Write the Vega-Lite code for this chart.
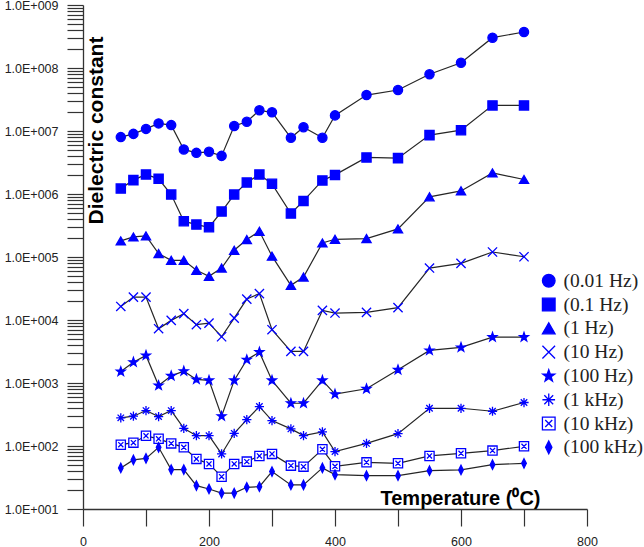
{
  "$schema": "https://vega.github.io/schema/vega-lite/v6.json",
  "width": 504,
  "height": 504,
  "autosize": {"type": "none"},
  "padding": {"left": 83, "top": 5, "right": 57, "bottom": 38},
  "background": "white",
  "config": {
    "view": {"stroke": null},
    "axis": {
      "grid": false,
      "domainColor": "#333333",
      "domainWidth": 1.3,
      "tickColor": "#333333",
      "tickWidth": 1.2,
      "labelFont": "Liberation Sans",
      "labelFontSize": 12.5,
      "labelColor": "#222222",
      "titleFont": "Liberation Sans",
      "titleFontWeight": "bold",
      "titleColor": "#000000"
    },
    "legend": {
      "orient": "none",
      "legendX": 456,
      "legendY": 266,
      "padding": 0,
      "symbolSize": 160,
      "symbolStrokeWidth": 1.3,
      "labelFont": "Liberation Serif",
      "labelFontSize": 19.5,
      "labelColor": "#222222",
      "labelOffset": 5,
      "rowPadding": 2.8,
      "titlePadding": 0
    }
  },
  "data": {
    "values": [
      {"t": 60, "f": "(0.01 Hz)", "e": 8.0e6}, {"t": 80, "f": "(0.01 Hz)", "e": 9.0e6}, {"t": 100, "f": "(0.01 Hz)", "e": 1.08e7}, {"t": 120, "f": "(0.01 Hz)", "e": 1.32e7}, {"t": 140, "f": "(0.01 Hz)", "e": 1.24e7}, {"t": 160, "f": "(0.01 Hz)", "e": 5.1e6}, {"t": 180, "f": "(0.01 Hz)", "e": 4.5e6}, {"t": 200, "f": "(0.01 Hz)", "e": 4.67e6}, {"t": 220, "f": "(0.01 Hz)", "e": 4.03e6}, {"t": 240, "f": "(0.01 Hz)", "e": 1.2e7}, {"t": 260, "f": "(0.01 Hz)", "e": 1.4e7}, {"t": 280, "f": "(0.01 Hz)", "e": 2.13e7}, {"t": 300, "f": "(0.01 Hz)", "e": 1.98e7}, {"t": 330, "f": "(0.01 Hz)", "e": 7.8e6}, {"t": 350, "f": "(0.01 Hz)", "e": 1.15e7}, {"t": 380, "f": "(0.01 Hz)", "e": 7.8e6}, {"t": 400, "f": "(0.01 Hz)", "e": 1.77e7}, {"t": 450, "f": "(0.01 Hz)", "e": 3.72e7}, {"t": 500, "f": "(0.01 Hz)", "e": 4.47e7}, {"t": 550, "f": "(0.01 Hz)", "e": 7.94e7}, {"t": 600, "f": "(0.01 Hz)", "e": 1.21e8}, {"t": 650, "f": "(0.01 Hz)", "e": 3.03e8}, {"t": 700, "f": "(0.01 Hz)", "e": 3.73e8},

      {"t": 60, "f": "(0.1 Hz)", "e": 1.22e6}, {"t": 80, "f": "(0.1 Hz)", "e": 1.66e6}, {"t": 100, "f": "(0.1 Hz)", "e": 2.04e6}, {"t": 120, "f": "(0.1 Hz)", "e": 1.74e6}, {"t": 140, "f": "(0.1 Hz)", "e": 9.8e5}, {"t": 160, "f": "(0.1 Hz)", "e": 3.7e5}, {"t": 180, "f": "(0.1 Hz)", "e": 3.27e5}, {"t": 200, "f": "(0.1 Hz)", "e": 2.97e5}, {"t": 220, "f": "(0.1 Hz)", "e": 5.27e5}, {"t": 240, "f": "(0.1 Hz)", "e": 9.8e5}, {"t": 260, "f": "(0.1 Hz)", "e": 1.52e6}, {"t": 280, "f": "(0.1 Hz)", "e": 2.04e6}, {"t": 300, "f": "(0.1 Hz)", "e": 1.45e6}, {"t": 330, "f": "(0.1 Hz)", "e": 4.9e5}, {"t": 350, "f": "(0.1 Hz)", "e": 7.77e5}, {"t": 380, "f": "(0.1 Hz)", "e": 1.64e6}, {"t": 400, "f": "(0.1 Hz)", "e": 2.01e6}, {"t": 450, "f": "(0.1 Hz)", "e": 3.8e6}, {"t": 500, "f": "(0.1 Hz)", "e": 3.71e6}, {"t": 550, "f": "(0.1 Hz)", "e": 8.6e6}, {"t": 600, "f": "(0.1 Hz)", "e": 1.03e7}, {"t": 650, "f": "(0.1 Hz)", "e": 2.55e7}, {"t": 700, "f": "(0.1 Hz)", "e": 2.55e7},

      {"t": 60, "f": "(1 Hz)", "e": 1.8e5}, {"t": 80, "f": "(1 Hz)", "e": 2.08e5}, {"t": 100, "f": "(1 Hz)", "e": 2.16e5}, {"t": 120, "f": "(1 Hz)", "e": 1.13e5}, {"t": 140, "f": "(1 Hz)", "e": 8.87e4}, {"t": 160, "f": "(1 Hz)", "e": 8.87e4}, {"t": 180, "f": "(1 Hz)", "e": 6.15e4}, {"t": 200, "f": "(1 Hz)", "e": 4.93e4}, {"t": 220, "f": "(1 Hz)", "e": 6.68e4}, {"t": 240, "f": "(1 Hz)", "e": 1.28e5}, {"t": 260, "f": "(1 Hz)", "e": 1.89e5}, {"t": 280, "f": "(1 Hz)", "e": 2.56e5}, {"t": 300, "f": "(1 Hz)", "e": 1.03e5}, {"t": 330, "f": "(1 Hz)", "e": 3.55e4}, {"t": 350, "f": "(1 Hz)", "e": 4.81e4}, {"t": 380, "f": "(1 Hz)", "e": 1.67e5}, {"t": 400, "f": "(1 Hz)", "e": 1.91e5}, {"t": 450, "f": "(1 Hz)", "e": 1.96e5}, {"t": 500, "f": "(1 Hz)", "e": 2.79e5}, {"t": 550, "f": "(1 Hz)", "e": 9.0e5}, {"t": 600, "f": "(1 Hz)", "e": 1.12e6}, {"t": 650, "f": "(1 Hz)", "e": 2.16e6}, {"t": 700, "f": "(1 Hz)", "e": 1.7e6},

      {"t": 60, "f": "(10 Hz)", "e": 1.64e4}, {"t": 80, "f": "(10 Hz)", "e": 2.31e4}, {"t": 100, "f": "(10 Hz)", "e": 2.31e4}, {"t": 120, "f": "(10 Hz)", "e": 7.27e3}, {"t": 140, "f": "(10 Hz)", "e": 9.86e3}, {"t": 160, "f": "(10 Hz)", "e": 1.26e4}, {"t": 180, "f": "(10 Hz)", "e": 8.42e3}, {"t": 200, "f": "(10 Hz)", "e": 8.93e3}, {"t": 220, "f": "(10 Hz)", "e": 5.42e3}, {"t": 240, "f": "(10 Hz)", "e": 1.07e4}, {"t": 260, "f": "(10 Hz)", "e": 2.15e4}, {"t": 280, "f": "(10 Hz)", "e": 2.62e4}, {"t": 300, "f": "(10 Hz)", "e": 7.01e3}, {"t": 330, "f": "(10 Hz)", "e": 3.17e3}, {"t": 350, "f": "(10 Hz)", "e": 3.17e3}, {"t": 380, "f": "(10 Hz)", "e": 1.42e4}, {"t": 400, "f": "(10 Hz)", "e": 1.29e4}, {"t": 450, "f": "(10 Hz)", "e": 1.32e4}, {"t": 500, "f": "(10 Hz)", "e": 1.57e4}, {"t": 550, "f": "(10 Hz)", "e": 6.68e4}, {"t": 600, "f": "(10 Hz)", "e": 7.94e4}, {"t": 650, "f": "(10 Hz)", "e": 1.2e5}, {"t": 700, "f": "(10 Hz)", "e": 1.01e5},

      {"t": 60, "f": "(100 Hz)", "e": 1520}, {"t": 80, "f": "(100 Hz)", "e": 2140}, {"t": 100, "f": "(100 Hz)", "e": 2740}, {"t": 120, "f": "(100 Hz)", "e": 912}, {"t": 140, "f": "(100 Hz)", "e": 1300}, {"t": 160, "f": "(100 Hz)", "e": 1540}, {"t": 180, "f": "(100 Hz)", "e": 1140}, {"t": 200, "f": "(100 Hz)", "e": 1100}, {"t": 220, "f": "(100 Hz)", "e": 297}, {"t": 240, "f": "(100 Hz)", "e": 1100}, {"t": 260, "f": "(100 Hz)", "e": 2340}, {"t": 280, "f": "(100 Hz)", "e": 3090}, {"t": 300, "f": "(100 Hz)", "e": 1100}, {"t": 330, "f": "(100 Hz)", "e": 477}, {"t": 350, "f": "(100 Hz)", "e": 477}, {"t": 380, "f": "(100 Hz)", "e": 1100}, {"t": 400, "f": "(100 Hz)", "e": 664}, {"t": 450, "f": "(100 Hz)", "e": 809}, {"t": 500, "f": "(100 Hz)", "e": 1620}, {"t": 550, "f": "(100 Hz)", "e": 3290}, {"t": 600, "f": "(100 Hz)", "e": 3670}, {"t": 650, "f": "(100 Hz)", "e": 5350}, {"t": 700, "f": "(100 Hz)", "e": 5350},

      {"t": 60, "f": "(1 kHz)", "e": 280}, {"t": 80, "f": "(1 kHz)", "e": 297}, {"t": 100, "f": "(1 kHz)", "e": 365}, {"t": 120, "f": "(1 kHz)", "e": 293}, {"t": 140, "f": "(1 kHz)", "e": 365}, {"t": 160, "f": "(1 kHz)", "e": 191}, {"t": 180, "f": "(1 kHz)", "e": 146}, {"t": 200, "f": "(1 kHz)", "e": 146}, {"t": 220, "f": "(1 kHz)", "e": 74.8}, {"t": 240, "f": "(1 kHz)", "e": 159}, {"t": 260, "f": "(1 kHz)", "e": 263}, {"t": 280, "f": "(1 kHz)", "e": 423}, {"t": 300, "f": "(1 kHz)", "e": 253}, {"t": 330, "f": "(1 kHz)", "e": 187}, {"t": 350, "f": "(1 kHz)", "e": 146}, {"t": 380, "f": "(1 kHz)", "e": 168}, {"t": 400, "f": "(1 kHz)", "e": 81.5}, {"t": 450, "f": "(1 kHz)", "e": 110}, {"t": 500, "f": "(1 kHz)", "e": 157}, {"t": 550, "f": "(1 kHz)", "e": 397}, {"t": 600, "f": "(1 kHz)", "e": 397}, {"t": 650, "f": "(1 kHz)", "e": 356}, {"t": 700, "f": "(1 kHz)", "e": 490},

      {"t": 60, "f": "(10 kHz)", "e": 105}, {"t": 80, "f": "(10 kHz)", "e": 113}, {"t": 100, "f": "(10 kHz)", "e": 145}, {"t": 120, "f": "(10 kHz)", "e": 130}, {"t": 140, "f": "(10 kHz)", "e": 110}, {"t": 160, "f": "(10 kHz)", "e": 95.3}, {"t": 180, "f": "(10 kHz)", "e": 62.4}, {"t": 200, "f": "(10 kHz)", "e": 51.9}, {"t": 220, "f": "(10 kHz)", "e": 32.6}, {"t": 240, "f": "(10 kHz)", "e": 51.9}, {"t": 260, "f": "(10 kHz)", "e": 56.5}, {"t": 280, "f": "(10 kHz)", "e": 69.6}, {"t": 300, "f": "(10 kHz)", "e": 74.9}, {"t": 330, "f": "(10 kHz)", "e": 48.8}, {"t": 350, "f": "(10 kHz)", "e": 47}, {"t": 380, "f": "(10 kHz)", "e": 88.6}, {"t": 400, "f": "(10 kHz)", "e": 47.6}, {"t": 450, "f": "(10 kHz)", "e": 55}, {"t": 500, "f": "(10 kHz)", "e": 53.1}, {"t": 550, "f": "(10 kHz)", "e": 69.6}, {"t": 600, "f": "(10 kHz)", "e": 76.5}, {"t": 650, "f": "(10 kHz)", "e": 84.5}, {"t": 700, "f": "(10 kHz)", "e": 98.9},

      {"t": 60, "f": "(100 kHz)", "e": 44.9}, {"t": 80, "f": "(100 kHz)", "e": 60.1}, {"t": 100, "f": "(100 kHz)", "e": 63.7}, {"t": 120, "f": "(100 kHz)", "e": 95.3}, {"t": 140, "f": "(100 kHz)", "e": 42.2}, {"t": 160, "f": "(100 kHz)", "e": 42.2}, {"t": 180, "f": "(100 kHz)", "e": 23.5}, {"t": 200, "f": "(100 kHz)", "e": 20.8}, {"t": 220, "f": "(100 kHz)", "e": 17.9}, {"t": 240, "f": "(100 kHz)", "e": 17.9}, {"t": 260, "f": "(100 kHz)", "e": 22.1}, {"t": 280, "f": "(100 kHz)", "e": 22.6}, {"t": 300, "f": "(100 kHz)", "e": 39.2}, {"t": 330, "f": "(100 kHz)", "e": 24.1}, {"t": 350, "f": "(100 kHz)", "e": 24.1}, {"t": 380, "f": "(100 kHz)", "e": 44.9}, {"t": 400, "f": "(100 kHz)", "e": 35.1}, {"t": 450, "f": "(100 kHz)", "e": 33.8}, {"t": 500, "f": "(100 kHz)", "e": 33.8}, {"t": 550, "f": "(100 kHz)", "e": 40.6}, {"t": 600, "f": "(100 kHz)", "e": 41.7}, {"t": 650, "f": "(100 kHz)", "e": 50.6}, {"t": 700, "f": "(100 kHz)", "e": 53.1}
    ]
  },
  "encoding": {
    "x": {
      "field": "t",
      "type": "quantitative",
      "scale": {"domain": [0, 800], "nice": false, "zero": false},
      "axis": {
        "values": [0, 100, 200, 300, 400, 500, 600, 700, 800],
        "labelExpr": "datum.value % 200 === 0 ? datum.label : ''",
        "labelFlush": false,
        "labelOverlap": false,
        "tickSize": 17,
        "labelPadding": 9,
        "title": "Temperature (⁰C)",
        "titleFontSize": 20,
        "titleAlign": "center",
        "titleBaseline": "alphabetic",
        "titleX": 377,
        "titleY": -5,
        "encoding": {
          "ticks": {"update": {"y2": {"signal": "datum.value % 200 === 0 ? 17 : 8"}}}
        }
      }
    },
    "y": {
      "field": "e",
      "type": "quantitative",
      "scale": {"type": "log", "domain": [10, 1000000000], "nice": false},
      "axis": {
        "values": [10, 20, 30, 40, 50, 60, 70, 80, 90,
                   100, 200, 300, 400, 500, 600, 700, 800, 900,
                   1000, 2000, 3000, 4000, 5000, 6000, 7000, 8000, 9000,
                   10000, 20000, 30000, 40000, 50000, 60000, 70000, 80000, 90000,
                   100000, 200000, 300000, 400000, 500000, 600000, 700000, 800000, 900000,
                   1000000, 2000000, 3000000, 4000000, 5000000, 6000000, 7000000, 8000000, 9000000,
                   10000000, 20000000, 30000000, 40000000, 50000000, 60000000, 70000000, 80000000, 90000000,
                   100000000, 200000000, 300000000, 400000000, 500000000, 600000000, 700000000, 800000000, 900000000,
                   1000000000],
        "labelExpr": "abs(log(datum.value) / LN10 - round(log(datum.value) / LN10)) < 0.001 ? '1.0E+' + format(round(log(datum.value) / LN10), '03d') : ''",
        "labelOverlap": false,
        "labelFlush": false,
        "tickSize": 16,
        "labelPadding": 9,
        "title": "Dielectric constant",
        "titleFontSize": 21,
        "titleAngle": 270,
        "titleAlign": "center",
        "titleBaseline": "alphabetic",
        "titleX": 19,
        "titleY": 125,
        "encoding": {
          "ticks": {"update": {"x2": {"signal": "abs(log(datum.value) / LN10 - round(log(datum.value) / LN10)) < 0.001 ? -16 : -10"}}},
          "labels": {"update": {"dy": {"signal": "datum.value >= 999999999 ? 2 : 0"}}}
        }
      }
    }
  },
  "layer": [
    {
      "mark": {"type": "line", "color": "#262626", "strokeWidth": 1.2},
      "encoding": {
        "detail": {"field": "f", "type": "nominal"},
        "order": {"field": "t", "type": "quantitative"}
      }
    },
    {
      "mark": {"type": "point", "filled": true, "size": 85, "stroke": "#0000ff", "strokeWidth": 1.3, "opacity": 1},
      "encoding": {
        "shape": {
          "field": "f",
          "type": "nominal",
          "title": null,
          "scale": {
            "domain": ["(0.01 Hz)", "(0.1 Hz)", "(1 Hz)", "(10 Hz)", "(100 Hz)", "(1 kHz)", "(10 kHz)", "(100 kHz)"],
            "range": [
              "circle",
              "square",
              "triangle-up",
              "M-1,-1L1,1M-1,1L1,-1",
              "M0,-1L0.235,-0.324L0.951,-0.309L0.38,0.124L0.588,0.809L0,0.4L-0.588,0.809L-0.38,0.124L-0.951,-0.309L-0.235,-0.324Z",
              "M-1,0L1,0M0,-1L0,1M-0.7,-0.7L0.7,0.7M-0.7,0.7L0.7,-0.7",
              "M-1,-1L1,-1L1,1L-1,1Z M-0.55,-0.55L0.55,0.55M-0.55,0.55L0.55,-0.55",
              "M0,-1L0.5,0L0,1L-0.5,0Z"
            ]
          }
        },
        "fill": {
          "field": "f",
          "type": "nominal",
          "title": null,
          "scale": {
            "domain": ["(0.01 Hz)", "(0.1 Hz)", "(1 Hz)", "(10 Hz)", "(100 Hz)", "(1 kHz)", "(10 kHz)", "(100 kHz)"],
            "range": ["#0000ff", "#0000ff", "#0000ff", "#0000ff", "#0000ff", "#0000ff", "#ffffff", "#0000ff"]
          }
        }
      }
    }
  ]
}
